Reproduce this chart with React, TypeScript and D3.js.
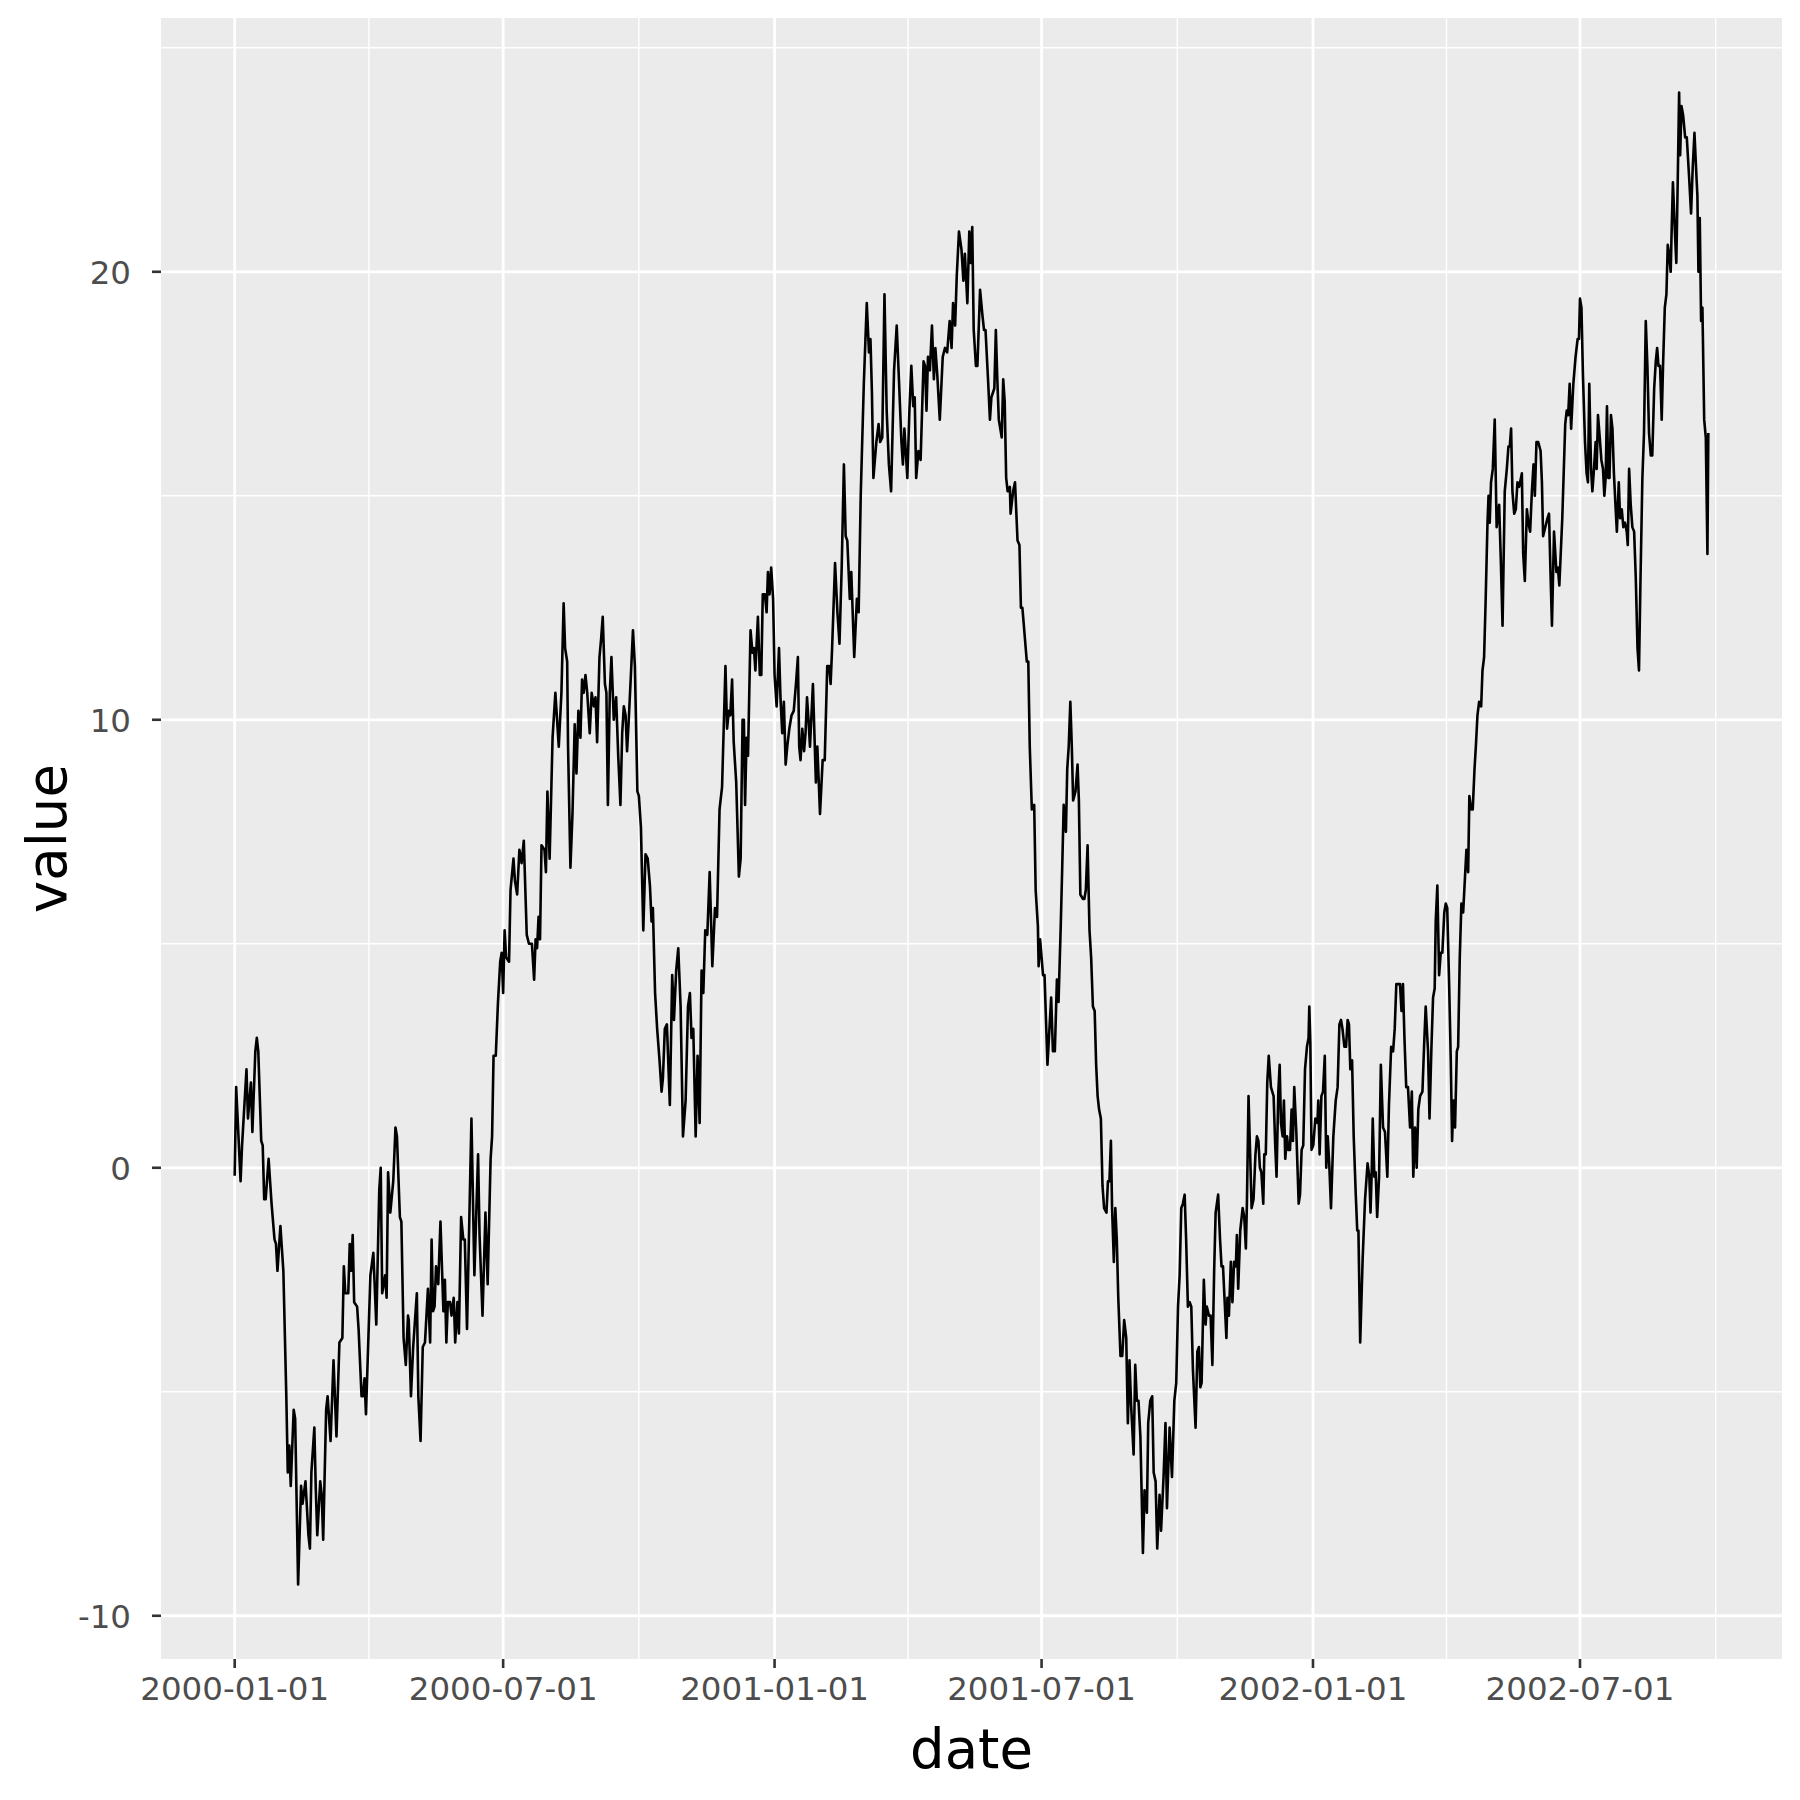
import { useEffect, useRef } from 'react'
import * as d3 from 'd3'

// Daily random walk as [days since 2000-01-01, value]
const walk2000a: [number, number][] = [
  [0, -0.18], [1, 1.8], [4, -0.3], [5, 0.5], [8, 2.2], [9, 1.1], [11, 1.9], [12, 0.8], [14, 2.6], [15, 2.9],
  [16, 2.6], [18, 0.6], [19, 0.5], [20, -0.7], [21, -0.7], [23, 0.2], [25, -0.8], [27, -1.6], [28, -1.7], [29, -2.3],
  [31, -1.3], [33, -2.3], [35, -5.1], [36, -6.8], [37, -6.2], [38, -7.1], [40, -5.4], [41, -5.6], [43, -9.3], [45, -7.1],
  [46, -7.5], [48, -7.0], [50, -8.2], [51, -8.5], [52, -6.8], [54, -5.8], [55, -7.2], [56, -8.2], [58, -7.0], [59, -7.3],
  [60, -8.3], [62, -5.4], [63, -5.1], [65, -6.1], [67, -4.3], [69, -6.0], [71, -3.9], [73, -3.8], [74, -2.2], [75, -2.8],
  [77, -2.8], [78, -1.7], [79, -2.3], [80, -1.5], [81, -3.0], [83, -3.1], [84, -3.6], [86, -5.1], [87, -5.1], [88, -4.7],
  [89, -5.5], [92, -2.4], [94, -1.9], [96, -3.5], [98, -0.5], [99, 0], [100, -2.8], [102, -2.4], [103, -2.9], [104, -0.1],
]

const walk2000b: [number, number][] = [
  [105.5, -1.0], [107.5, -0.3], [109, 0.9], [110, 0.7], [112, -1.1], [113, -1.2], [114.5, -3.8], [116, -4.4], [117.5, -3.3],
  [118, -3.4], [119.5, -5.1], [121, -4.0], [123.5, -2.8], [124.5, -5.1], [126, -6.1], [127.5, -4.0], [129, -3.9], [131, -2.7],
  [132.5, -3.9], [133.5, -1.6], [134.5, -3.2], [135.5, -3.1], [136.5, -2.2], [138, -2.6], [139.5, -1.2], [141.5, -3.2],
  [142.5, -2.5], [143.5, -3.9], [144.5, -3.0], [146, -3.0], [147, -3.3], [148.5, -2.9], [149.5, -3.9], [151, -3.0],
  [152, -3.7], [153.5, -1.1], [155, -1.6], [156, -1.6], [157.5, -3.6], [160.5, 1.1], [162.5, -2.4], [165, 0.3], [166, -1.5],
  [168, -3.3], [170, -1.0], [171.5, -2.6], [173.5, 0.2], [174.5, 0.7], [175.5, 2.5], [177, 2.5], [178.5, 3.7], [180, 4.6],
  [181, 4.8], [182, 3.9], [183, 5.3], [184, 4.7], [186, 4.6], [187, 6.2], [189, 6.9], [190, 6.4], [191.5, 6.1], [193, 7.1],
  [194.5, 6.8], [196, 7.3], [198, 5.2], [199.5, 5.0], [201.5, 5.0], [203, 4.2], [204, 5.1], [205, 4.9], [206, 5.6],
  [207, 5.1], [208, 7.2], [210, 7.1], [211, 6.6], [212, 8.4], [213.5, 6.9], [215.5, 9.6],
]

const walk2000c: [number, number][] = [
  [217.4, 10.6], [219.7, 9.4], [221.5, 10.6], [223, 12.6], [224, 11.6], [225.4, 11.3], [226, 9.4], [227.6, 6.7], [229, 7.9],
  [230.5, 9.9], [231.7, 8.8], [233, 10.2], [234.4, 9.6], [235.5, 10.9], [236.6, 10.6], [237.8, 11.0], [239, 10.6],
  [240.7, 9.7], [242, 10.6], [243.5, 10.3], [244.6, 10.5], [245.7, 9.5], [247.3, 11.4], [248.4, 11.8], [249.5, 12.3],
  [251, 10.8], [252, 10.6], [253, 8.1], [254.3, 10.6], [255.4, 11.4], [257, 10.0], [258.6, 10.5], [260, 9.2], [261.5, 8.1],
  [262.7, 9.7], [263.8, 10.3], [265, 10.1], [266, 9.3], [267, 9.9], [268.6, 11.0], [270, 12.0], [271.3, 11.2], [273, 8.4],
  [274, 8.3], [275.4, 7.6], [277, 5.3], [278.5, 7.0], [280, 6.9], [281.5, 6.3], [282.6, 5.5], [283.5, 5.8], [285, 3.9],
  [286.4, 3.1], [288, 2.4], [289.4, 1.7], [290.3, 2.0], [291.6, 3.1], [293, 3.2], [295, 1.4], [296.6, 4.3], [297.8, 3.3],
  [299.3, 4.4], [300.7, 4.9], [302.3, 3.6], [303.9, 0.7], [305.7, 1.5], [307.3, 3.6], [308.6, 3.9], [309.7, 2.9],
  [310.9, 3.1], [312.5, 0.7], [313.8, 2.5], [315.2, 1.0], [316.5, 4.4], [317.7, 3.9], [319, 5.3], [320.4, 5.2], [322, 6.6],
  [323.8, 4.5], [325.6, 5.8], [327, 5.6], [328.7, 8.0],
]

const walk2001a: [number, number][] = [
  [330.4, 8.5], [332.7, 11.2], [333.8, 9.8], [335, 10.2], [336, 10.1], [337.2, 10.9], [338.3, 9.5], [340, 8.6], [341.8, 6.5],
  [343, 6.9], [344.3, 10.0], [345.2, 10.0], [346, 8.1], [347, 9.6], [348, 9.2], [349.7, 12.0], [351, 11.5], [352, 11.6],
  [353, 11.1], [354.7, 12.3], [356, 11.0], [357, 11.0], [358, 12.8], [359.4, 12.8], [360.6, 12.4], [361.5, 13.3],
  [362.6, 12.8], [363.7, 13.4], [365, 12.7], [366, 11.0], [367.4, 10.3], [369, 11.6], [370, 10.5], [371.2, 9.7],
  [372.3, 10.4], [373.5, 9.0], [374.6, 9.4], [376, 9.8], [377.5, 10.1], [379, 10.2], [380.5, 10.8], [381.8, 11.4],
  [382.7, 9.4], [383.6, 9.1], [384.8, 9.8], [386, 9.3], [387, 9.7], [388, 10.5], [389, 10.0], [390, 9.4], [392, 10.8],
  [394, 8.6], [395, 9.4], [396.8, 7.9], [398.6, 9.1], [400, 9.1], [401.7, 11.2], [403, 11.2], [404, 10.8], [405, 11.6],
  [407, 13.5], [408.6, 12.4], [410, 11.7], [411.5, 13.4], [413, 15.7], [414.2, 14.1], [415.3, 14.0], [417, 12.7],
  [418, 13.3], [420, 11.4], [421.8, 12.7], [423, 12.4], [424.4, 15.0], [426.5, 17.5], [428.5, 19.3], [430, 18.2],
  [431, 18.5], [432, 17.3], [433, 15.4], [435, 16.2], [436.5, 16.6], [437.6, 16.2], [439, 16.3],
]

const walk2001b: [number, number][] = [
  [440.5, 19.5], [442, 16.9], [443.5, 15.7], [445, 15.1], [447, 17.8], [448.8, 18.8], [450.3, 17.6], [452, 16.2], [453, 15.7],
  [454, 16.5], [456, 15.4], [457.4, 16.9], [458.7, 17.9], [460, 17.0], [461, 17.2], [462, 15.4], [463.5, 16.0], [465, 15.8],
  [467, 18.0], [468, 17.9], [469, 16.9], [470, 18.1], [471.3, 17.8], [472.7, 18.8], [474, 17.6], [475, 18.3], [476.3, 17.7],
  [478, 16.7], [479, 17.4], [480, 18.1], [481.5, 18.3], [483, 18.2], [484.7, 18.9], [486, 18.3], [487, 19.3], [488.4, 18.8],
  [489.5, 19.9], [491, 20.9], [492.7, 20.5], [494, 19.8], [495, 20.4], [496.7, 19.3], [498, 20.9], [499, 20.2], [500, 21.0],
  [501, 18.7], [502.5, 17.9], [503.5, 17.9], [505.3, 19.6], [507, 19.0], [508, 18.7], [509, 18.7], [510.7, 17.6], [512, 16.7],
  [513, 17.2], [515, 17.4], [516, 18.7], [517, 17.6], [518, 16.7], [520, 16.3], [521, 17.6], [522, 17.1], [523, 15.4],
  [524, 15.1], [525.5, 15.2], [526, 14.6], [527.7, 15.1], [529, 15.3], [530.7, 14.0], [532, 13.9], [533, 12.5], [534, 12.5],
  [535, 12.1], [537, 11.3], [538, 11.3], [539, 9.4], [540.4, 8.0], [542, 8.1], [543, 6.2], [544.5, 5.4], [545, 4.5],
  [546, 5.1], [548, 4.3], [549, 4.3], [551, 2.3],
]

const walk2001c: [number, number][] = [
  [553.5, 3.8], [554.7, 2.6], [556, 2.6], [557.4, 4.2], [558.5, 3.7], [560, 5.4], [561, 6.7], [562, 8.1], [563.5, 7.5],
  [564.4, 8.9], [565.4, 9.4], [566.5, 10.4], [567.5, 9.4], [568.4, 8.2], [570, 8.4], [571.4, 9.0], [572.3, 8.2], [573.3, 6.1],
  [575, 6.0], [576, 6.0], [577, 6.2], [578.2, 7.2], [579.5, 5.3], [580.6, 4.7], [581.8, 3.6], [583, 3.5], [584, 2.3],
  [585, 1.6], [586, 1.3], [587.2, 1.1], [588.3, -0.4], [589.4, -0.9], [591, -1.0], [592, -0.3], [593, -0.3], [594, 0.6],
  [594.8, -0.9], [596, -2.1], [597, -0.9], [598, -1.6], [599, -2.9], [600.5, -4.2], [601.7, -4.2], [603, -3.4],
  [604.4, -3.8], [605.5, -5.7], [606.6, -4.3], [607.7, -5.3], [609.4, -6.4], [610.5, -4.4], [611.6, -5.2], [612.7, -5.2],
  [614, -6.0], [614.8, -7.2], [615.7, -8.6], [616.8, -7.2], [618.4, -7.7], [619.3, -5.7], [620.7, -5.2], [622, -5.1],
  [623, -6.8], [624.3, -7.0], [625.4, -8.5], [627, -7.3], [628, -8.1], [629.7, -6.9], [631, -5.7], [632, -7.6],
  [633.8, -5.8], [635.4, -6.9], [637, -5.2], [638.3, -4.8], [639.5, -3.1], [640.6, -2.4], [641.7, -0.9], [642.8, -0.8],
  [644, -0.6], [645, -1.6], [646.2, -3.1], [647.4, -3.0], [648.5, -3.1], [649.6, -4.5], [651.4, -5.8], [652.6, -4.1],
  [653.7, -4.0], [654.6, -4.9], [655.5, -4.8], [657, -2.5], [658.2, -3.5], [659, -3.1], [660.5, -3.3], [661.6, -3.3],
  [662.8, -4.4],
]

const walk2002a: [number, number][] = [
  [664, -2.3], [665, -1.0], [666.7, -0.6], [668, -1.6], [669, -2.2], [670, -2.2], [671, -2.9], [672.3, -3.8], [673, -2.9],
  [674, -3.3], [675.3, -2.1], [676.4, -3.0], [677.5, -2.1], [678.7, -2.2], [679.4, -1.5], [680.3, -2.7], [681.7, -1.4],
  [683.3, -0.9], [684.4, -1.1], [685.5, -1.8], [686.2, -0.8], [687.3, 1.6], [688.4, 0.3], [689.4, -0.9], [690.7, -0.7],
  [692, 0.3], [693, 0.7], [694, 0.6], [695, 0], [696, -0.1], [697.3, -0.8], [698, 0.3], [699, 0.3], [700, 1.9], [701, 2.5],
  [702.5, 1.8], [704.3, 1.6], [705.4, 0.5], [706.3, -0.2], [707.5, 1.7], [708.4, 2.3], [709.3, 1.0], [710.4, 0.7],
  [711.3, 1.5], [712.2, 0.2], [713.4, 0.7], [714.3, 0.4], [715.4, 0.4], [716.5, 1.3], [717.4, 0.6], [718.3, 1.8],
  [719.7, 0.8], [721.3, -0.8], [722.2, -0.6], [723.3, 0.4], [724.4, 0.5], [725.6, 2.2], [726.9, 2.7], [728, 2.9],
  [728.5, 3.6], [729.2, 2.8], [730, 0.4], [731.2, 0.5], [732.6, 1.1], [734, 1.0], [734.6, 1.5], [735.5, 0.3], [736.7, 1.6],
  [737.8, 1.7], [739, 2.5], [740, 0], [741, 0.7], [742, 0.1], [743.2, -0.9], [744.8, 0.7], [746.4, 1.5], [747.7, 1.8],
  [748.9, 3.2], [750, 3.3], [751, 3.1], [752.3, 2.7], [753.4, 2.7], [754.5, 3.3], [755.4, 3.2], [756.3, 2.2], [757.5, 2.4],
  [758.6, 0.7], [760, -0.6], [761, -1.4], [761.8, -1.4], [763, -3.9], [764.7, -2.0], [766.3, -0.7], [768, 0.1],
  [769.2, -0.2], [770, -1.0], [770.8, -0.1], [771.5, 1.1], [772.6, -0.2], [773.5, -0.1], [774.5, -1.1],
]

const walk2002b: [number, number][] = [
  [775.8, -0.2], [777, 2.3], [778.5, 0.9], [779.8, 0.8], [781.4, -0.2], [782.5, 1.4], [784, 2.7], [785.3, 2.6], [786.4, 3.1],
  [787.5, 4.1], [788.9, 4.1], [790, 4.1], [791, 3.5], [792, 4.1], [793, 2.9], [794.2, 1.8], [795.4, 1.8], [796.8, 0.9],
  [798, 1.7], [799, -0.2], [800.2, 0.9], [801.3, 0], [802.4, 1.3], [803.6, 1.6], [805.2, 1.7], [806.3, 2.7], [807.4, 3.6],
  [809, 2.6], [810, 1.1], [811.3, 2.7], [812.4, 3.8], [813.5, 4.0], [814.2, 5.5], [815.3, 6.3], [816.5, 4.3], [817.6, 4.8],
  [818.7, 4.8], [820, 5.7], [821, 5.9], [822, 5.8], [823.3, 4.1], [824.4, 2.4], [825.3, 0.6], [826.2, 1.5], [827.3, 0.9],
  [828.5, 2.6], [829.4, 2.7], [830.5, 4.7], [831.6, 5.9], [832.8, 5.7], [833.9, 6.4], [835, 7.1], [836.2, 6.6], [837, 8.3],
  [838.2, 8.0], [839.3, 8.0], [840.5, 8.9], [841.4, 9.4], [842.5, 10.1], [843.6, 10.4], [845, 10.3], [845.9, 11.1],
  [847, 11.4], [848, 12.6], [849.3, 14.4], [850, 15.0], [850.8, 14.4], [851.7, 15.3], [852.9, 15.6], [854.2, 16.7],
  [855.5, 14.3], [857.2, 14.8], [858.3, 13.6], [859.5, 12.1], [861, 15.1], [862.4, 15.6], [863.5, 16.1], [864.4, 16.1],
  [865.3, 16.5], [866.2, 15.1], [867.4, 14.6], [868.5, 14.7], [869.6, 15.3], [870.8, 15.2], [872.6, 15.5], [873.5, 13.7],
  [874.6, 13.1], [876, 14.7], [877, 14.4], [878.2, 14.2], [879.4, 15.1], [880.5, 15.7], [881.4, 15.0], [882.5, 16.2],
  [883.7, 16.2], [885.3, 16.0], [886.2, 15.3], [887, 14.1],
]

const walk2002c: [number, number][] = [
  [890, 14.5], [891, 14.6], [892, 13.3], [893, 12.1], [894.4, 14.2], [896, 13.3], [897, 13.4], [898, 13.0], [900, 14.5],
  [902, 16.6], [903, 16.9], [904, 16.8], [905, 17.5], [906, 16.5], [907.5, 17.5], [909, 18.1], [910.4, 18.5], [911.3, 18.5],
  [912, 19.4], [913, 19.2], [914, 17.7], [915.4, 16.2], [916.5, 15.5], [917.4, 15.3], [918.3, 17.5], [919.5, 15.6],
  [920.4, 15.1], [921.5, 15.6], [922.6, 16.2], [923.3, 15.6], [924.2, 16.8], [925.4, 16.3], [926.5, 15.8], [927.6, 15.6],
  [928.5, 15.0], [929.4, 15.4], [930.3, 17.0], [931.2, 15.4], [932, 15.4], [933, 16.8], [934, 16.5], [935, 15.5],
  [936.2, 14.7], [937, 14.2], [938.3, 15.3], [939.2, 14.5], [940.3, 14.7], [941.4, 14.3], [942.5, 14.4], [943.7, 14.2],
  [944.4, 13.9], [945.3, 15.6], [946.4, 14.8], [947.5, 14.3], [948.7, 14.2], [949.8, 13.2], [951, 11.6], [952, 11.1],
  [953, 13.1], [954.3, 15.4], [955.4, 16.4], [956.6, 18.9], [957.7, 17.9], [958.8, 16.4], [960, 15.9], [961, 15.9],
  [962.3, 17.4], [963.4, 18.0], [964.3, 18.3], [965.2, 17.9], [966.3, 17.9], [967.4, 16.7], [968.3, 17.9], [969.5, 19.2],
  [970.6, 19.5], [971.5, 20.6], [972.4, 20.4], [973.5, 20.0], [974.2, 21.0], [975, 22.0], [976.2, 21.0], [977.3, 20.2],
  [978.3, 22.1], [979.2, 24.0], [979.9, 22.6], [980.8, 23.7], [981.9, 23.5], [983.3, 23.0], [984.4, 23.0], [986, 22.1],
  [987.3, 21.3], [988.4, 22.3], [989.6, 23.1], [991, 22.1], [991.6, 21.7], [992.3, 20.0], [993.2, 21.2], [994.1, 18.9],
  [995, 19.2], [996.2, 16.7], [997.3, 16.3], [998.4, 13.7], [999, 16.4],
]

const yTicks = [-10, 0, 10, 20]
const xTickLabels = ['2000-01-01', '2000-07-01', '2001-01-01', '2001-07-01', '2002-01-01', '2002-07-01']

const START = Date.UTC(2000, 0, 1)
const DAY = 86400000

export default function App() {
  const svgRef = useRef<SVGSVGElement>(null)

  useEffect(() => {
    if (!svgRef.current) return

    const width = 1800
    const height = 1800
    const marginTop = 18
    const marginRight = 18
    const marginBottom = 141
    const marginLeft = 161
    const font = '"DejaVu Sans", sans-serif'

    const data = [
      ...walk2000a, ...walk2000b, ...walk2000c,
      ...walk2001a, ...walk2001b, ...walk2001c,
      ...walk2002a, ...walk2002b, ...walk2002c,
    ].map(([d, v]) => ({ date: new Date(START + d * DAY), value: v }))

    // ggplot-style 5% expansion on both axes
    const [t0, t1] = d3.extent(data, d => +d.date) as [number, number]
    const tPad = (t1 - t0) * 0.05
    const [v0, v1] = d3.extent(data, d => d.value) as [number, number]
    const vPad = (v1 - v0) * 0.05

    const x = d3.scaleUtc()
      .domain([new Date(t0 - tPad), new Date(t1 + tPad)])
      .range([marginLeft, width - marginRight])
    const y = d3.scaleLinear()
      .domain([v0 - vPad, v1 + vPad])
      .range([height - marginBottom, marginTop])

    const xMajor = xTickLabels.map(s => d3.utcParse('%Y-%m-%d')(s) as Date)
    const [dLo, dHi] = x.domain()
    const allMajor = d3.utcMonth.every(6)!.range(d3.utcDay.offset(dLo, -200), d3.utcDay.offset(dHi, 200))
    const xMinor = d3.pairs(allMajor, (a, b) => new Date((+a + +b) / 2))
      .filter(d => d >= dLo && d <= dHi)
    const yMinor = d3.pairs([yTicks[0] - 10, ...yTicks, yTicks[yTicks.length - 1] + 10], (a, b) => (a + b) / 2)
      .filter(v => v >= y.domain()[0] && v <= y.domain()[1])

    const svg = d3.select(svgRef.current)
    svg.selectAll('*').remove()

    svg.append('rect')
      .attr('width', width).attr('height', height).attr('fill', 'white')

    const [px0, px1] = x.range()
    const [py1, py0] = y.range()

    svg.append('rect')
      .attr('x', px0).attr('y', py0)
      .attr('width', px1 - px0).attr('height', py1 - py0)
      .attr('fill', '#EBEBEB')

    const grid = svg.append('g').attr('stroke', 'white')
    grid.selectAll('.ymin').data(yMinor).join('line')
      .attr('x1', px0).attr('x2', px1)
      .attr('y1', d => y(d)).attr('y2', d => y(d))
      .attr('stroke-width', 1.4)
    grid.selectAll('.xmin').data(xMinor).join('line')
      .attr('y1', py0).attr('y2', py1)
      .attr('x1', d => x(d)).attr('x2', d => x(d))
      .attr('stroke-width', 1.4)
    grid.selectAll('.ymaj').data(yTicks).join('line')
      .attr('x1', px0).attr('x2', px1)
      .attr('y1', d => y(d)).attr('y2', d => y(d))
      .attr('stroke-width', 2.8)
    grid.selectAll('.xmaj').data(xMajor).join('line')
      .attr('y1', py0).attr('y2', py1)
      .attr('x1', d => x(d)).attr('x2', d => x(d))
      .attr('stroke-width', 2.8)

    const line = d3.line<{ date: Date; value: number }>()
      .x(d => x(d.date))
      .y(d => y(d.value))

    svg.append('path')
      .datum(data)
      .attr('d', line)
      .attr('fill', 'none')
      .attr('stroke', 'black')
      .attr('stroke-width', 2.6)
      .attr('stroke-linejoin', 'round')

    // Axes: ticks and labels
    const tickLen = 9
    const fmt = d3.utcFormat('%Y-%m-%d')

    svg.append('g').selectAll('line').data(yTicks).join('line')
      .attr('x1', px0 - tickLen).attr('x2', px0)
      .attr('y1', d => y(d)).attr('y2', d => y(d))
      .attr('stroke', '#333333').attr('stroke-width', 2.6)

    svg.append('g').selectAll('text').data(yTicks).join('text')
      .attr('x', px0 - tickLen - 21)
      .attr('y', d => y(d) + 11.8)
      .attr('text-anchor', 'end')
      .style('font-family', font).style('font-size', '32.5px')
      .attr('fill', '#4D4D4D')
      .text(d => String(d))

    svg.append('g').selectAll('line').data(xMajor).join('line')
      .attr('y1', py1).attr('y2', py1 + tickLen)
      .attr('x1', d => x(d)).attr('x2', d => x(d))
      .attr('stroke', '#333333').attr('stroke-width', 2.6)

    svg.append('g').selectAll('text').data(xMajor).join('text')
      .attr('x', d => x(d))
      .attr('y', 1700)
      .attr('text-anchor', 'middle')
      .style('font-family', font).style('font-size', '32.5px')
      .attr('fill', '#4D4D4D')
      .text(d => fmt(d))

    svg.append('text')
      .attr('x', (px0 + px1) / 2)
      .attr('y', 1768)
      .attr('text-anchor', 'middle')
      .style('font-family', font).style('font-size', '54.5px')
      .attr('fill', 'black')
      .text('date')

    svg.append('text')
      .attr('transform', `translate(66,${(py0 + py1) / 2}) rotate(-90)`)
      .attr('text-anchor', 'middle')
      .style('font-family', font).style('font-size', '54.5px')
      .attr('fill', 'black')
      .text('value')

    return () => {
      svg.selectAll('*').remove()
    }
  }, [])

  return (
    <svg
      ref={svgRef}
      width={1800}
      height={1800}
      style={{ position: 'absolute', left: 0, top: 0, display: 'block' }}
    />
  )
}
